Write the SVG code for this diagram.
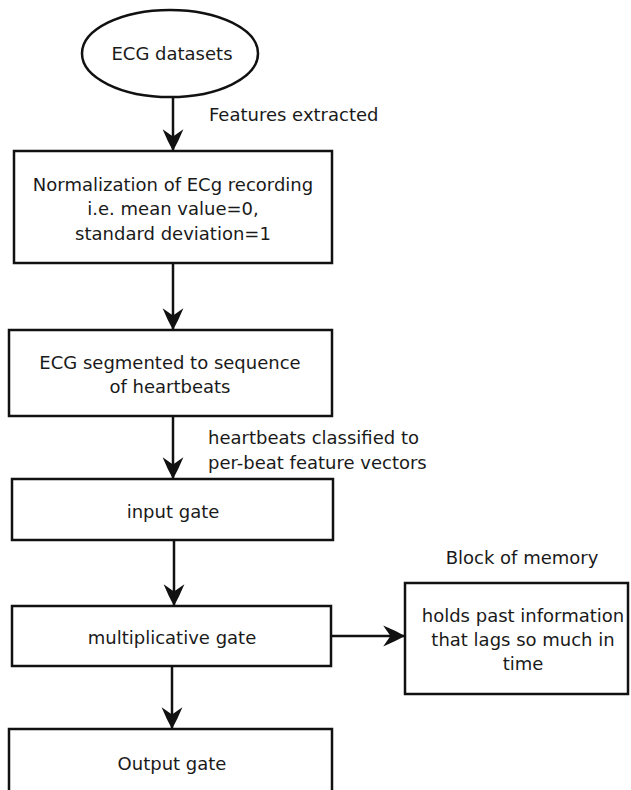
<svg xmlns="http://www.w3.org/2000/svg" width="631" height="790" viewBox="0 0 631 790">
  <style>
    .shape { fill: #ffffff; stroke: #111111; stroke-width: 2.5; }
    .label { font-family: "DejaVu Sans", Verdana, sans-serif; font-size: 18px; fill: #1a1a1a; }
    .mid { text-anchor: middle; }
    .edge { fill: none; stroke: #111111; stroke-width: 2.5; marker-end: url(#arrow); }
  </style>
  <defs>
    <marker id="arrow" markerUnits="userSpaceOnUse" markerWidth="26" markerHeight="26" viewBox="-23 -12 25 24" refX="0" refY="0" orient="auto">
      <path d="M0,0 Q-9,-5 -21,-10 L-14,0 L-21,10 Q-9,5 0,0 Z" fill="#111111"/>
    </marker>
  </defs>
  <rect width="631" height="790" fill="#ffffff"/>

  <g id="connectors">
    <line class="edge" x1="173" y1="97" x2="173" y2="151"/>
    <line class="edge" x1="173" y1="263" x2="173" y2="330"/>
    <line class="edge" x1="173" y1="416" x2="173" y2="479"/>
    <line class="edge" x1="174" y1="540" x2="174" y2="606"/>
    <line class="edge" x1="172" y1="666" x2="172" y2="729"/>
    <line class="edge" x1="331" y1="636" x2="405" y2="636"/>
    <text class="label" x="209" y="121">Features extracted</text>
    <text class="label" x="208" y="444">heartbeats classified to</text>
    <text class="label" x="208" y="469">per-beat feature vectors</text>
  </g>

  <g id="ecg-datasets">
    <ellipse class="shape" cx="170" cy="53.5" rx="88" ry="43.5"/>
    <text class="label mid" x="172" y="60">ECG datasets</text>
  </g>

  <g id="normalization">
    <rect class="shape" x="14" y="151" width="318" height="112"/>
    <text class="label mid" x="173" y="191">Normalization of ECg recording</text>
    <text class="label mid" x="173" y="215">i.e. mean value=0,</text>
    <text class="label mid" x="173" y="240">standard deviation=1</text>
  </g>

  <g id="segmentation">
    <rect class="shape" x="9" y="330" width="323" height="86"/>
    <text class="label mid" x="170" y="369">ECG segmented to sequence</text>
    <text class="label mid" x="170" y="393">of heartbeats</text>
  </g>

  <g id="input-gate">
    <rect class="shape" x="12" y="479" width="321" height="61"/>
    <text class="label mid" x="173" y="518">input gate</text>
  </g>

  <g id="multiplicative-gate">
    <rect class="shape" x="12" y="606" width="319" height="60"/>
    <text class="label mid" x="172" y="644">multiplicative gate</text>
  </g>

  <g id="output-gate">
    <rect class="shape" x="9" y="729" width="323" height="80"/>
    <text class="label mid" x="172" y="770">Output gate</text>
  </g>

  <g id="memory-block">
    <text class="label mid" x="522" y="564">Block of memory</text>
    <rect class="shape" x="405" y="583" width="223" height="111"/>
    <text class="label mid" x="523" y="622">holds past information</text>
    <text class="label mid" x="523" y="646">that lags so much in</text>
    <text class="label mid" x="523" y="670">time</text>
  </g>
</svg>
